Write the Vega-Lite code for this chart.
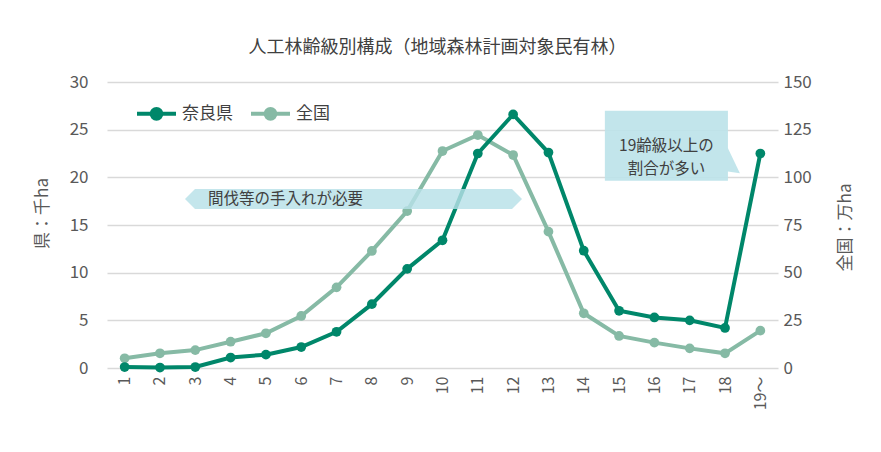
{
  "$schema": "https://vega.github.io/schema/vega-lite/v6.json",
  "width": 671,
  "height": 286,
  "autosize": {"type": "none"},
  "padding": {"left": 107, "top": 82, "right": 103, "bottom": 84},
  "background": "white",
  "config": {
    "view": {"stroke": null},
    "font": "Noto Sans CJK JP",
    "axisX": {"labelOverlap": false, "labelFlush": false}
  },
  "title": {
    "text": "人工林齢級別構成（地域森林計画対象民有林）",
    "fontSize": 18,
    "fontWeight": "normal",
    "color": "#404040",
    "anchor": "middle",
    "offset": 16,
    "dx": -5
  },
  "datasets": {
    "series": [
      {"age": 1, "series": "奈良県", "value": 0.1},
      {"age": 2, "series": "奈良県", "value": 0.05},
      {"age": 3, "series": "奈良県", "value": 0.1},
      {"age": 4, "series": "奈良県", "value": 1.1},
      {"age": 5, "series": "奈良県", "value": 1.4},
      {"age": 6, "series": "奈良県", "value": 2.2},
      {"age": 7, "series": "奈良県", "value": 3.8},
      {"age": 8, "series": "奈良県", "value": 6.7},
      {"age": 9, "series": "奈良県", "value": 10.4},
      {"age": 10, "series": "奈良県", "value": 13.4},
      {"age": 11, "series": "奈良県", "value": 22.5},
      {"age": 12, "series": "奈良県", "value": 26.6},
      {"age": 13, "series": "奈良県", "value": 22.6},
      {"age": 14, "series": "奈良県", "value": 12.3},
      {"age": 15, "series": "奈良県", "value": 6.0},
      {"age": 16, "series": "奈良県", "value": 5.3},
      {"age": 17, "series": "奈良県", "value": 5.0},
      {"age": 18, "series": "奈良県", "value": 4.2},
      {"age": 19, "series": "奈良県", "value": 22.5},
      {"age": 1, "series": "全国", "value": 5.1},
      {"age": 2, "series": "全国", "value": 7.7},
      {"age": 3, "series": "全国", "value": 9.4},
      {"age": 4, "series": "全国", "value": 13.8},
      {"age": 5, "series": "全国", "value": 18.2},
      {"age": 6, "series": "全国", "value": 27.3},
      {"age": 7, "series": "全国", "value": 42.3},
      {"age": 8, "series": "全国", "value": 61.4},
      {"age": 9, "series": "全国", "value": 82.3},
      {"age": 10, "series": "全国", "value": 113.8},
      {"age": 11, "series": "全国", "value": 122.2},
      {"age": 12, "series": "全国", "value": 111.7},
      {"age": 13, "series": "全国", "value": 71.5},
      {"age": 14, "series": "全国", "value": 28.7},
      {"age": 15, "series": "全国", "value": 16.8},
      {"age": 16, "series": "全国", "value": 13.3},
      {"age": 17, "series": "全国", "value": 10.3},
      {"age": 18, "series": "全国", "value": 7.7},
      {"age": 19, "series": "全国", "value": 19.6}
    ],
    "arrow": [{"x": 7.48, "y": 17.73, "tx": 3.36, "label": "間伐等の手入れが必要"}],
    "callout": [{"x": 16.34, "y": 23.3, "label": "19齢級以上の\n割合が多い"}]
  },
  "layer": [
    {
      "data": {"name": "series"},
      "transform": [{"filter": "datum.series === '全国'"}],
      "mark": {"type": "line", "strokeWidth": 4, "point": {"filled": true, "size": 95}},
      "encoding": {
        "x": {
          "field": "age", "type": "quantitative",
          "scale": {"domain": [0.5, 19.5], "nice": false, "zero": false},
          "axis": {
            "title": null,
            "values": [1,2,3,4,5,6,7,8,9,10,11,12,13,14,15,16,17,18,19],
            "tickCount": 40,
            "format": "d",
            "labelExpr": "datum.value == 19 ? '19～' : datum.label",
            "labelAngle": -90,
            "labelFontSize": 16,
            "labelColor": "#595959",
            "labelPadding": 8,
            "labelOverlap": false,
            "labelFlush": false,
            "grid": false, "ticks": false, "domain": false
          }
        },
        "y": {
          "field": "value", "type": "quantitative",
          "scale": {"domain": [0, 150], "nice": false},
          "axis": {
            "orient": "right",
            "title": "全国：万ha",
            "values": [0, 25, 50, 75, 100, 125, 150],
            "grid": false, "ticks": false, "domain": false,
            "labelFontSize": 17, "labelColor": "#595959", "labelPadding": 5,
            "titleFontSize": 17, "titleColor": "#595959", "titleFontWeight": "normal",
            "titleAngle": -90, "titleX": 67, "titleY": 145,
            "titleAlign": "center", "titleBaseline": "middle"
          }
        },
        "color": {
          "field": "series", "type": "nominal",
          "scale": {"domain": ["奈良県", "全国"], "range": ["#00876A", "#86BAA5"]},
          "legend": {
            "title": null,
            "orient": "none",
            "direction": "horizontal",
            "legendX": 28,
            "legendY": 10,
            "symbolType": "M-1,0L1,0M-0.25,0A0.25,0.25,0,1,1,0.25,0A0.25,0.25,0,1,1,-0.25,0Z",
            "symbolSize": 1521,
            "symbolStrokeWidth": 4,
            "labelFontSize": 17,
            "labelColor": "#404040",
            "labelOffset": 4,
            "columnPadding": 10,
            "encode": {"symbols": {"update": {"fill": {"scale": "color", "field": "value"}}}}
          }
        }
      }
    },
    {
      "data": {"name": "series"},
      "transform": [{"filter": "datum.series === '奈良県'"}],
      "mark": {"type": "line", "strokeWidth": 4, "point": {"filled": true, "size": 95}},
      "encoding": {
        "x": {"field": "age", "type": "quantitative"},
        "y": {
          "field": "value", "type": "quantitative",
          "scale": {"domain": [0, 30], "nice": false},
          "axis": {
            "orient": "left",
            "title": "県：千ha",
            "values": [0, 5, 10, 15, 20, 25, 30],
            "grid": true, "gridColor": "#d9d9d9", "gridWidth": 1.5,
            "ticks": false, "domain": false,
            "labelFontSize": 17, "labelColor": "#595959", "labelPadding": 19,
            "titleFontSize": 17, "titleColor": "#595959", "titleFontWeight": "normal",
            "titleAngle": -90, "titleX": -65, "titleY": 131,
            "titleAlign": "center", "titleBaseline": "middle"
          }
        },
        "color": {"field": "series", "type": "nominal"}
      }
    },
    {
      "data": {"name": "arrow"},
      "mark": {
        "type": "point",
        "shape": "M-1,0L-0.9407,-0.0593L0.9407,-0.0593L1,0L0.9407,0.0593L-0.9407,0.0593Z",
        "filled": true,
        "size": 113569,
        "fill": "#B7E1E8",
        "fillOpacity": 0.82,
        "strokeWidth": 0
      },
      "encoding": {
        "x": {"field": "x", "type": "quantitative"},
        "y": {"field": "y", "type": "quantitative", "scale": {"domain": [0, 30], "nice": false}, "axis": null}
      }
    },
    {
      "data": {"name": "arrow"},
      "mark": {"type": "text", "align": "left", "baseline": "middle", "fontSize": 15.5, "color": "#404040"},
      "encoding": {
        "x": {"field": "tx", "type": "quantitative"},
        "y": {"field": "y", "type": "quantitative", "scale": {"domain": [0, 30], "nice": false}, "axis": null},
        "text": {"field": "label"}
      }
    },
    {
      "data": {"name": "callout"},
      "mark": {
        "type": "point",
        "shape": "M-0.879,-0.5L0.879,-0.5L0.879,0.033L1.05,0.39L0.879,0.367L0.879,0.5L-0.879,0.5Z",
        "filled": true,
        "size": 19600,
        "fill": "#BDE3E9",
        "fillOpacity": 0.92,
        "strokeWidth": 0
      },
      "encoding": {
        "x": {"field": "x", "type": "quantitative"},
        "y": {"field": "y", "type": "quantitative", "scale": {"domain": [0, 30], "nice": false}, "axis": null}
      }
    },
    {
      "data": {"name": "callout"},
      "mark": {"type": "text", "align": "center", "baseline": "middle", "fontSize": 15.5, "lineHeight": 23, "lineBreak": "\n", "color": "#404040"},
      "encoding": {
        "x": {"field": "x", "type": "quantitative"},
        "y": {"field": "y", "type": "quantitative", "scale": {"domain": [0, 30], "nice": false}, "axis": null},
        "text": {"field": "label"}
      }
    }
  ],
  "resolve": {"scale": {"y": "independent"}}
}
